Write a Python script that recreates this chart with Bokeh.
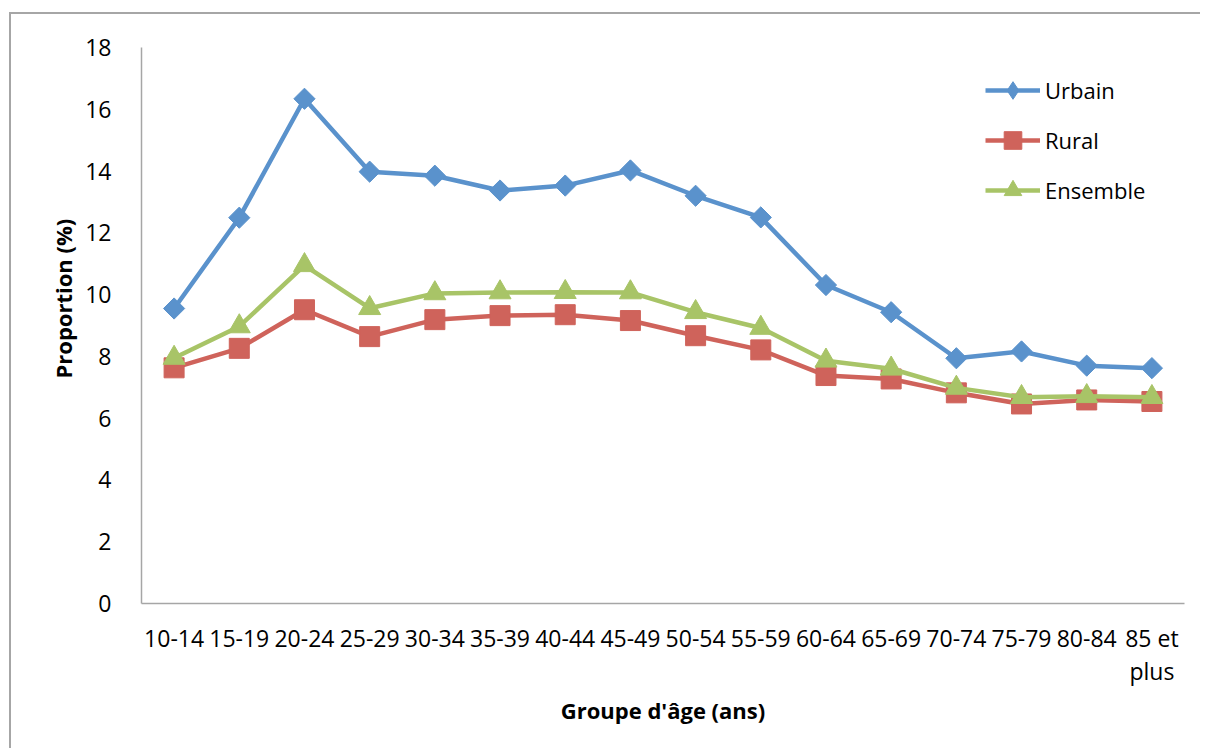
from bokeh.plotting import figure
from bokeh.models import FactorRange, Range1d, Legend, LegendItem, Title, ColumnDataSource
from bokeh.embed import file_html
from bokeh.resources import INLINE

# ---- data ----
age_groups = ["10-14", "15-19", "20-24", "25-29", "30-34", "35-39", "40-44", "45-49",
              "50-54", "55-59", "60-64", "65-69", "70-74", "75-79", "80-84", "85 et\nplus"]
urbain = [9.55, 12.49, 16.34, 13.98, 13.85, 13.37, 13.53, 14.02,
          13.20, 12.50, 10.31, 9.43, 7.94, 8.16, 7.70, 7.62]
rural = [7.63, 8.26, 9.51, 8.64, 9.19, 9.32, 9.35, 9.16,
         8.67, 8.21, 7.38, 7.27, 6.82, 6.46, 6.59, 6.54]
ensemble = [7.95, 8.97, 10.95, 9.56, 10.04, 10.07, 10.08, 10.07,
            9.43, 8.92, 7.86, 7.60, 6.98, 6.68, 6.71, 6.68]
y_ticks = [0, 2, 4, 6, 8, 10, 12, 14, 16, 18]
series_names = ["Urbain", "Rural", "Ensemble"]
x_title = "Groupe d'âge (ans)"
y_title = "Proportion (%)"

FONT = "Open Sans"
BLUE = "#5A92CC"
RED = "#CF635B"
GREEN = "#A8C467"
AXIS = "#A6A6A6"

src = ColumnDataSource(dict(age=age_groups, urbain=urbain, rural=rural, ensemble=ensemble))

p = figure(x_range=FactorRange(*age_groups), y_range=Range1d(0, 18),
           width=1197, height=736, output_backend="svg", toolbar_location=None,
           min_border_left=130, min_border_right=24, min_border_top=33, min_border_bottom=147)
# outer chart-area border: only its left and top edges fall inside the picture
p.styles = {"box-shadow": f"-2px -2px 0 0 {AXIS}", "margin-left": "11px", "margin-top": "14px",
            "clip-path": "polygon(-6px -6px, calc(100% - 8px) -6px, calc(100% - 8px) 100%, -6px 100%)"}

p.xgrid.grid_line_color = None
p.ygrid.grid_line_color = None
p.outline_line_color = None
p.background_fill_color = "white"
p.border_fill_color = "white"

for ax in (p.xaxis[0], p.yaxis[0]):
    ax.axis_line_color = AXIS
    ax.axis_line_width = 1.5
    ax.major_tick_line_color = None
    ax.minor_tick_line_color = None
    ax.major_label_text_font = FONT
    ax.major_label_text_font_size = "23px"
    ax.major_label_text_color = "black"

p.yaxis.ticker = y_ticks
p.yaxis.major_label_standoff = 24
p.xaxis.major_label_standoff = 12
p.xaxis.major_label_text_line_height = 1.05
p.xaxis.axis_label = x_title
p.xaxis.axis_label_text_font = FONT
p.xaxis.axis_label_text_font_size = "22px"
p.xaxis.axis_label_text_font_style = "bold"
p.xaxis.axis_label_text_color = "black"
p.xaxis.axis_label_standoff = 5

ytitle = Title(text=y_title, align="left", offset=225, text_font=FONT,
               text_font_size="22px", text_font_style="bold", text_color="black", standoff=10)
p.add_layout(ytitle, "left")

LW = 4.5
l1 = p.line("age", "urbain", source=src, line_color=BLUE, line_width=LW)
s1 = p.scatter("age", "urbain", source=src, marker="square", size=15, angle=0.785398,
               fill_color=BLUE, line_color=BLUE)
# diamond glyph used only for the legend swatch (legend markers are drawn unrotated)
s1_leg = p.scatter("age", "urbain", source=src, marker="diamond", size=20,
                   fill_color=BLUE, line_color=BLUE, visible=False)
l2 = p.line("age", "rural", source=src, line_color=RED, line_width=LW)
s2 = p.scatter("age", "rural", source=src, marker="square", size=20,
               fill_color=RED, line_color=RED)
l3 = p.line("age", "ensemble", source=src, line_color=GREEN, line_width=LW)
s3 = p.scatter("age", "ensemble", source=src, marker="triangle", size=22,
               fill_color=GREEN, line_color=GREEN)

legend = Legend(items=[LegendItem(label=series_names[0], renderers=[l1, s1_leg]),
                       LegendItem(label=series_names[1], renderers=[l2, s2]),
                       LegendItem(label=series_names[2], renderers=[l3, s3])],
                location=(844, 391), glyph_width=55, glyph_height=44, spacing=6,
                label_standoff=5, padding=0, margin=0, border_line_color=None,
                background_fill_alpha=0, label_text_font=FONT, label_text_font_size="22px",
                label_text_color="black")
p.add_layout(legend)

open("out.html", "w").write(file_html(p, INLINE))
